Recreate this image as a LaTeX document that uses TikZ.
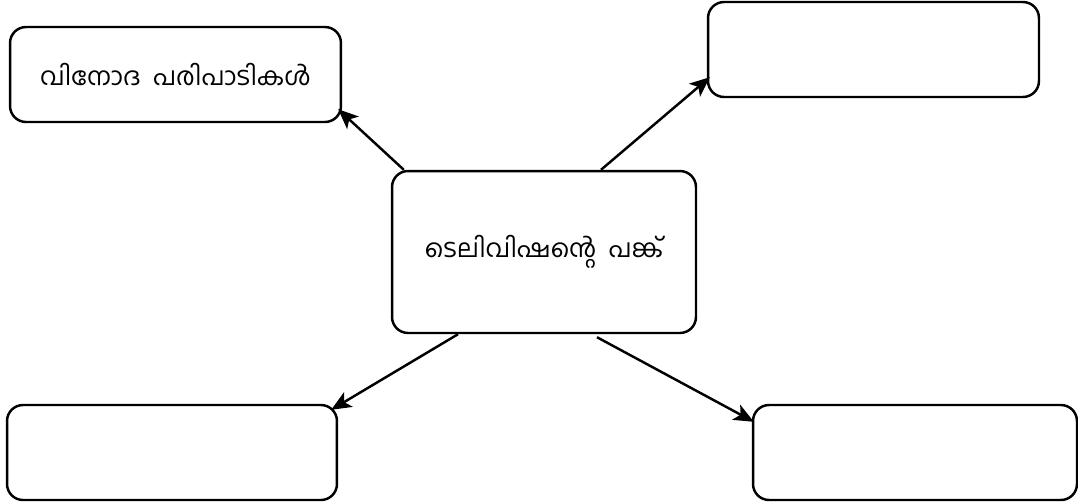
\documentclass[tikz,border=0pt]{standalone}
\usepackage{fontspec}
\newfontfamily\malfont[Script=Malayalam]{Hind Kochi}
\usetikzlibrary{arrows.meta,calc}

\tikzset{
    caja/.style={draw, line width=1.4pt, rounded corners=0.32cm, align=center,
        inner sep=0pt, font=\malfont\fontsize{14.3}{17}\selectfont},
    flecha/.style={line width=1.4pt, -{Stealth[length=0.4cm, width=0.34cm, inset=0.1cm]}}
}

\begin{document}
\begin{tikzpicture}[x=0.02cm, y=-0.02cm]
    \useasboundingbox (0,0) rectangle (1078,501);

    % Cajas del mapa
    \node[caja, minimum width=6.08cm, minimum height=3.24cm] (centro) at (544,252) {ടെലിവിഷന്റെ\ \ പങ്ക്};
    \node[caja, minimum width=6.62cm, minimum height=1.9cm] (arribaizq) at (175.5,74.5) {വിനോദ\ \ പരിപാടികൾ};
    \node[caja, minimum width=6.62cm, minimum height=1.9cm] (arribader) at (873.5,49.5) {};
    \node[caja, minimum width=6.6cm, minimum height=1.9cm] (abajoizq) at (172,452.5) {};
    \node[caja, minimum width=6.48cm, minimum height=1.9cm] (abajoder) at (915,452.5) {};

    \draw[flecha] ($(centro.north west)+(13,0)$) -- ($(arribaizq.south east)+(-4,-14)$);
    \draw[flecha] ($(centro.north)+(57,0)$) -- ($(arribader.south west)+(3,-21)$);
    \draw[flecha] ($(centro.south)+(-86,0)$) -- ($(abajoizq.north east)+(-7,6)$);
    \draw[flecha] ($(centro.south)+(53,3)$) -- ($(abajoder.north west)+(2,18)$);
\end{tikzpicture}
\end{document}
